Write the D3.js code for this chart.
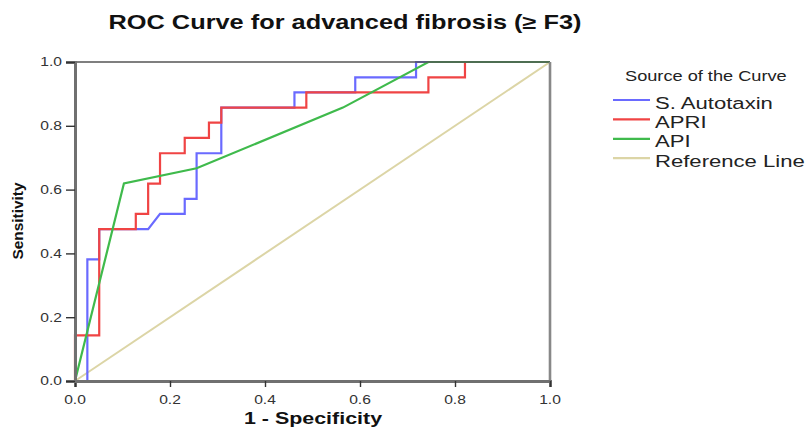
<!DOCTYPE html>
<html>
<head>
<meta charset="utf-8">
<script src="https://cdn.jsdelivr.net/npm/d3@7"></script>
<style>
  body { margin: 0; background: #fff; }
  svg text { font-family: "Liberation Sans", Arial, sans-serif; fill: #111; }
</style>
</head>
<body>
<svg id="chart" width="809" height="428"></svg>
<script>
// --- data ---
const tickValues = [0, 0.2, 0.4, 0.6, 0.8, 1.0];
const tickLabels = ["0.0", "0.2", "0.4", "0.6", "0.8", "1.0"];

// S. Autotaxin (1 - specificity, sensitivity)
const autotaxinFpr = [0, 0.026, 0.026, 0.051, 0.051, 0.154, 0.179, 0.231, 0.231, 0.256, 0.256, 0.308, 0.308, 0.462, 0.462, 0.590, 0.590, 0.718, 0.718, 1];
const autotaxinTpr = [0, 0, 0.381, 0.381, 0.476, 0.476, 0.524, 0.524, 0.571, 0.571, 0.714, 0.714, 0.857, 0.857, 0.905, 0.905, 0.952, 0.952, 1, 1];

// APRI
const apriFpr = [0, 0, 0.051, 0.051, 0.128, 0.128, 0.154, 0.154, 0.179, 0.179, 0.231, 0.231, 0.282, 0.282, 0.308, 0.308, 0.487, 0.487, 0.744, 0.744, 0.821, 0.821, 1];
const apriTpr = [0, 0.143, 0.143, 0.476, 0.476, 0.524, 0.524, 0.619, 0.619, 0.714, 0.714, 0.762, 0.762, 0.810, 0.810, 0.857, 0.857, 0.905, 0.905, 0.952, 0.952, 1, 1];

// API
const apiFpr = [0, 0.103, 0.256, 0.564, 0.744, 1];
const apiTpr = [0, 0.619, 0.667, 0.857, 1, 1];

// reference diagonal
const refFpr = [0, 1];
const refTpr = [0, 1];

const seriesNames = ["S. Autotaxin", "APRI", "API", "Reference Line"];
const seriesColors = ["#6a6aff", "#f04444", "#3fba4c", "#dcd5a6"];

// --- chart ---
const svg = d3.select("#chart");
const SX = 1.3; // the reference text is stretched sideways

const x = d3.scaleLinear().domain([0, 1]).range([75, 550]);
const y = d3.scaleLinear().domain([0, 1]).range([381, 62]);

function label(g, px, py, str, size, weight, anchor) {
    return g.append("text")
        .attr("transform", `translate(${px},${py}) scale(${SX},1)`)
        .attr("text-anchor", anchor || "start")
        .attr("font-size", size)
        .attr("font-weight", weight || "normal")
        .text(str);
}

const zip = (xs, ys) => xs.map((v, i) => [v, ys[i]]);
const series = [
    zip(autotaxinFpr, autotaxinTpr),
    zip(apriFpr, apriTpr),
    zip(apiFpr, apiTpr),
    zip(refFpr, refTpr)
];

const line = d3.line().x(d => x(d[0])).y(d => y(d[1]));

// reference line first, then the curves on top
svg.append("path")
    .attr("d", line(series[3]))
    .attr("fill", "none")
    .attr("stroke", seriesColors[3])
    .attr("stroke-width", 2);

[0, 1, 2].forEach(i => {
    svg.append("path")
        .attr("d", line(series[i]))
        .attr("fill", "none")
        .attr("stroke", seriesColors[i])
        .attr("stroke-width", 2.2)
        .attr("stroke-linejoin", "miter");
});

// frame: top thin, right thick
svg.append("line")
    .attr("x1", x(0)).attr("x2", x(1)).attr("y1", y(1)).attr("y2", y(1))
    .attr("stroke", "#555").attr("stroke-width", 1.3);
svg.append("line")
    .attr("x1", x(1)).attr("x2", x(1)).attr("y1", y(1)).attr("y2", y(0))
    .attr("stroke", "#888").attr("stroke-width", 2.6);

// axes
const xAxis = svg.append("g")
    .attr("transform", `translate(0,${y(0)})`)
    .call(d3.axisBottom(x).tickValues(tickValues).tickSize(6).tickFormat(""));
const yAxis = svg.append("g")
    .attr("transform", `translate(${x(0)},0)`)
    .call(d3.axisLeft(y).tickValues(tickValues).tickSize(9).tickFormat(""));

[xAxis, yAxis].forEach(a => {
    a.select(".domain").attr("stroke", "#707070").attr("stroke-width", 3);
    a.selectAll(".tick line").attr("stroke", "#333").attr("stroke-width", 1.4);
});

tickValues.forEach((v, i) => {
    label(svg, x(v), 404, tickLabels[i], 12, "normal", "middle").style("fill", "#333");
    label(svg, 62, y(v) + 4.3, tickLabels[i], 12, "normal", "end").style("fill", "#333");
});

// titles
label(svg, 345, 29, "ROC Curve for advanced fibrosis (\u2265 F3)", 19.5, "bold", "middle");
label(svg, 313, 424, "1 - Specificity", 16.5, "bold", "middle");
svg.append("text")
    .attr("transform", "translate(23,221) rotate(-90) scale(1.1,1)")
    .attr("text-anchor", "middle")
    .attr("font-size", 14)
    .attr("font-weight", "bold")
    .text("Sensitivity");

// legend
const legend = svg.append("g");
label(legend, 625, 81, "Source of the Curve", 14, "normal", "start").style("fill", "#222");
seriesNames.forEach((name, i) => {
    const ly = 100 + i * 19.4;
    legend.append("line")
        .attr("x1", 613).attr("x2", 650).attr("y1", ly).attr("y2", ly)
        .attr("stroke", seriesColors[i]).attr("stroke-width", 2.2);
    label(legend, 655, ly + 8.5, name, 17, "normal", "start").style("fill", "#222");
});
</script>
</body>
</html>
